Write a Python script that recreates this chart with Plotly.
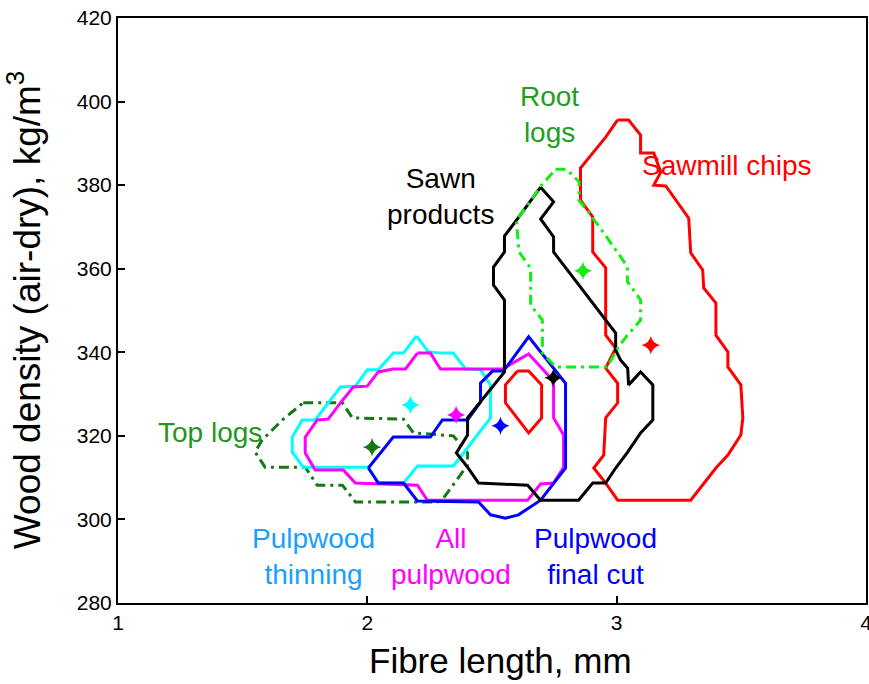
import plotly.graph_objects as go

# ---- contour outlines (fibre length mm, density kg/m3) ----
top_logs_x = [1.743, 1.900, 1.940, 2.145, 2.185, 2.345, 2.402, 2.402, 2.305, 2.281, 1.952, 1.900, 1.799, 1.751, 1.590, 1.550, 1.578, 1.663]
top_logs_y = [327.9, 327.9, 324.3, 324.0, 320.7, 320.0, 315.9, 313.0, 305.1, 304.2, 304.2, 308.2, 308.2, 312.5, 312.5, 316.1, 319.0, 324.0]

thin_x = [2.197, 2.245, 2.301, 2.345, 2.394, 2.454, 2.494, 2.494, 2.386, 2.345, 2.201, 2.145, 2.044, 2.004, 1.743, 1.699, 1.699, 1.739, 1.791, 1.843, 1.892, 1.952, 2.000, 2.044, 2.104, 2.145]
thin_y = [343.9, 340.1, 339.8, 339.8, 336.0, 335.8, 332.2, 324.3, 315.9, 312.8, 312.8, 308.7, 308.7, 312.5, 312.5, 316.1, 319.7, 323.8, 323.8, 327.9, 331.7, 331.9, 335.8, 335.8, 339.8, 339.8]

allpulp_x = [2.201, 2.253, 2.293, 2.542, 2.647, 2.743, 2.747, 2.747, 2.787, 2.787, 2.747, 2.695, 2.643, 2.241, 2.201, 1.952, 1.904, 1.791, 1.751, 1.751, 1.799, 1.843, 1.892, 1.944, 2.000, 2.044, 2.104, 2.153]
allpulp_y = [339.8, 339.8, 336.0, 336.0, 339.6, 333.4, 331.7, 324.3, 320.2, 312.5, 308.7, 308.5, 304.6, 304.6, 308.2, 308.7, 311.8, 311.8, 315.9, 319.7, 323.8, 324.0, 327.9, 331.7, 331.9, 335.3, 336.0, 336.0]

final_x = [2.004, 2.104, 2.253, 2.301, 2.402, 2.454, 2.454, 2.502, 2.546, 2.647, 2.795, 2.795, 2.695, 2.606, 2.554, 2.494, 2.446, 2.201, 2.145, 2.044]
final_y = [312.3, 319.7, 319.7, 323.8, 323.8, 328.1, 332.6, 335.5, 335.5, 343.7, 332.6, 312.3, 304.6, 301.1, 300.3, 301.1, 304.2, 304.4, 308.7, 308.7]

sawn_x = [2.695, 2.747, 2.695, 2.747, 2.747, 2.996, 2.996, 3.016, 3.044, 3.048, 3.096, 3.145, 3.145, 3.096, 3.044, 2.996, 2.956, 2.904, 2.847, 2.695, 2.643, 2.446, 2.402, 2.357, 2.402, 2.402, 2.550, 2.550, 2.506, 2.506, 2.550, 2.550, 2.598]
sawn_y = [379.5, 376.0, 371.9, 367.6, 364.0, 344.6, 340.5, 338.1, 336.2, 332.2, 335.3, 332.2, 323.8, 320.7, 316.1, 312.3, 308.7, 308.7, 304.6, 304.6, 308.2, 308.7, 312.5, 315.9, 320.2, 324.3, 335.3, 352.5, 356.1, 360.4, 364.0, 367.8, 371.6]

root_x = [2.755, 2.799, 2.849, 2.849, 2.896, 2.949, 3.043, 3.043, 3.096, 3.096, 3.043, 3.003, 2.963, 2.755, 2.702, 2.702, 2.655, 2.655, 2.608, 2.598, 2.648, 2.692]
root_y = [383.8, 383.8, 380.8, 376.4, 372.8, 368.5, 360.5, 356.9, 352.5, 347.7, 344.1, 340.9, 336.5, 336.5, 339.8, 347.7, 351.3, 360.1, 364.1, 371.6, 375.6, 379.5]

chips_x = [3.004, 3.048, 3.096, 3.096, 3.149, 3.177, 3.149, 3.197, 3.289, 3.297, 3.345, 3.349, 3.398, 3.398, 3.446, 3.446, 3.498, 3.506, 3.498, 3.446, 3.398, 3.349, 3.297, 3.004, 2.956, 2.908, 2.948, 2.956, 3.004, 3.004, 2.956, 2.996, 2.956, 2.956, 2.904, 2.904, 2.855, 2.855, 2.956]
chips_y = [395.6, 395.6, 392.0, 387.7, 387.7, 383.1, 380.0, 379.8, 372.1, 363.8, 359.7, 355.4, 351.8, 344.1, 340.1, 336.5, 332.2, 324.3, 320.2, 315.4, 312.3, 308.7, 304.6, 304.6, 308.7, 312.3, 315.4, 324.3, 327.9, 332.6, 336.2, 341.0, 344.1, 360.2, 364.0, 372.4, 376.4, 384.1, 391.5]

chips_inner_x = [2.602, 2.647, 2.699, 2.699, 2.647, 2.554, 2.554]
chips_inner_y = [335.5, 335.5, 332.2, 324.3, 320.7, 327.9, 332.2]

# ---- mean points ----
mean_names = ["Top logs", "Pulpwood thinning", "All pulpwood", "Pulpwood final cut", "Sawn products", "Root logs", "Sawmill chips"]
mean_x = [2.019, 2.173, 2.356, 2.534, 2.746, 2.865, 3.137]
mean_y = [317.3, 327.4, 325.0, 322.4, 333.9, 359.5, 341.7]
mean_colors = ["#147814", "#00ffff", "#ff00ff", "#0000ff", "#000000", "#11ee11", "#ff0000"]

# ---- labels ----
label_text = ["Root<br>logs", "Sawmill chips", "Sawn<br>products", "Top logs",
              "Pulpwood<br>thinning", "All<br>pulpwood", "Pulpwood<br>final cut"]
label_x = [2.731, 3.442, 2.293, 1.369, 1.783, 2.337, 2.916]
label_y = [397.0, 384.8, 377.4, 320.7, 291.2, 291.2, 291.2]
label_colors = ["#1fa01f", "#ff0000", "#000000", "#1f961f", "#1a9fff", "#ff00ff", "#0000ff"]

x_title = "Fibre length, mm"
y_title = "Wood density (air-dry), kg/m<sup>3</sup>"

FONT = "Liberation Sans, Arial, sans-serif"

fig = go.Figure()

def outline(xs, ys, color, dash="solid"):
    fig.add_trace(go.Scatter(
        x=list(xs) + [xs[0]], y=list(ys) + [ys[0]], mode="lines",
        line=dict(color=color, width=3, dash=dash),
        hoverinfo="skip", showlegend=False))

outline(top_logs_x, top_logs_y, "#147814", "10px,5px,3px,5px")
outline(thin_x, thin_y, "#00ffff")
outline(allpulp_x, allpulp_y, "#ff00ff")
outline(final_x, final_y, "#0000ff")
outline(chips_inner_x, chips_inner_y, "#ff0000")
outline(chips_x, chips_y, "#ff0000")
outline(sawn_x, sawn_y, "#000000")
outline(root_x, root_y, "#11ee11", "10px,5px,3px,5px")

fig.add_trace(go.Scatter(
    x=mean_x, y=mean_y, mode="markers", text=mean_names,
    marker=dict(symbol="star-diamond", size=13, color=mean_colors,
                line=dict(width=0)),
    showlegend=False))

for t, x, y, c in zip(label_text, label_x, label_y, label_colors):
    fig.add_annotation(x=x, y=y, text=t, showarrow=False,
                       font=dict(family=FONT, size=28, color=c),
                       xanchor="center", yanchor="middle")

# axis titles
fig.add_annotation(xref="paper", yref="paper", x=0.512, y=-0.099,
                   text=x_title, showarrow=False,
                   font=dict(family=FONT, size=35, color="black"),
                   xanchor="center", yanchor="middle")
fig.add_annotation(xref="paper", yref="paper", x=-0.124, y=0.501,
                   text=y_title, showarrow=False, textangle=-90,
                   font=dict(family=FONT, size=37, color="black"),
                   xanchor="center", yanchor="middle")

fig.update_layout(
    width=869, height=684,
    paper_bgcolor="white", plot_bgcolor="white",
    margin=dict(l=118, r=3, t=18, b=81, autoexpand=False),
    font=dict(family=FONT, color="black"),
    showlegend=False,
)
fig.update_xaxes(
    range=[1, 4], tickvals=[1, 2, 3, 4], ticks="inside", ticklen=7,
    tickwidth=1.5, tickcolor="black", showline=True, linecolor="black",
    linewidth=2, mirror=True, showgrid=False, zeroline=False,
    tickfont=dict(size=21, family=FONT), automargin=False,
    ticklabeloverflow="allow",
)
fig.update_yaxes(
    range=[280, 420], tickvals=[280, 300, 320, 340, 360, 380, 400, 420],
    ticks="inside", ticklen=7, tickwidth=1.5, tickcolor="black",
    showline=True, linecolor="black", linewidth=2, mirror=True,
    showgrid=False, zeroline=False,
    tickfont=dict(size=21, family=FONT), automargin=False,
    ticklabeloverflow="allow",
)

fig.write_html(
    "out.html",
    config={"displayModeBar": False},
    post_script="document.body.style.margin='0';document.body.style.overflow='hidden';",
)
